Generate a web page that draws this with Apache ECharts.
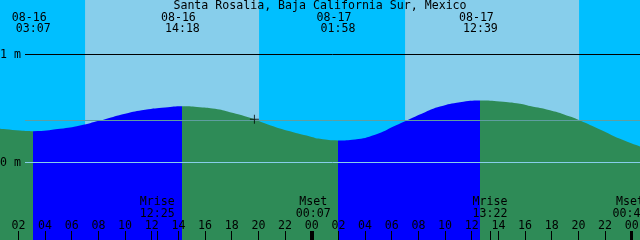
<!DOCTYPE html>
<html><head><meta charset="utf-8">
<script src="https://cdn.jsdelivr.net/npm/echarts@6/dist/echarts.min.js"></script>
<style>html,body{margin:0;padding:0;background:#00BFFF}#c{width:640px;height:240px}</style>
</head><body><div id="c"></div>
<script>
// ---- data (hours counted from 08-16 00:00 local) ----
const chartTitle = 'Santa Rosalia, Baja California Sur, Mexico';
const tideHours = [0.62, 2.12, 3.12, 5.12, 6.62, 8.12, 8.5, 10.0, 11.5, 13.0, 14.3, 15.62, 16.75, 17.87, 19.37, 20.87, 22.37, 23.87, 24.62, 25.97, 27.25, 28.75, 30.25, 31.0, 32.5, 33.62, 35.12, 36.65, 38.12, 39.62, 40.37, 41.87, 43.37, 44.12, 45.62, 47.12, 48.62];
const tideLevels = [0.312, 0.296, 0.290, 0.312, 0.343, 0.389, 0.401, 0.451, 0.488, 0.509, 0.521, 0.512, 0.497, 0.466, 0.414, 0.346, 0.289, 0.241, 0.219, 0.204, 0.213, 0.256, 0.340, 0.382, 0.466, 0.518, 0.558, 0.574, 0.565, 0.544, 0.523, 0.484, 0.426, 0.389, 0.306, 0.219, 0.148];
const eventHours = [3.117, 14.3, 25.967, 36.65];
const eventTypes = ['low', 'high', 'low', 'high'];
const eventDates = ['08-16', '08-16', '08-17', '08-17'];
const eventTimes = ['03:07', '14:18', '01:58', '12:39'];
const moonHours = [12.417, 24.117, 37.367, 48.717];
const moonNames = ['Mrise', 'Mset', 'Mrise', 'Mset'];
const moonTimes = ['12:25', '00:07', '13:22', '00:43'];
const sunriseHours = [7.0, 31.0];
const sunsetHours = [20.05, 44.05];
const hourTicks = [2, 4, 6, 8, 10, 12, 14, 16, 18, 20, 22, 24, 26, 28, 30, 32, 34, 36, 38, 40, 42, 44, 46, 48];
const hourTickLabels = ['02', '04', '06', '08', '10', '12', '14', '16', '18', '20', '22', '00', '02', '04', '06', '08', '10', '12', '14', '16', '18', '20', '22', '00'];
const midnightHours = [24, 48];
const levelLines = [1, 0];
const levelLabels = ['1 m', '0 m'];
const meanLevel = 0.389;
const nowPoint = [19.7, 0.40];

// ---- layout / style ----
const X_MIN = 0.62, X_MAX = 48.62;
const Y_MIN = -0.71759, Y_MAX = 1.50463;
const FONT = 'DejaVu Sans Mono';
const FS = 11.6;
const NIGHT = '#00BFFF', DAY = '#87CEEB', RISE = '#0000FF', FALL = '#2E8B57';
const lineStartH = X_MIN + 25 * (X_MAX - X_MIN) / 640;

const pieces = [];
let prev = null;
eventHours.forEach((h, i) => {
  const col = eventTypes[i] === 'low' ? FALL : RISE; // colour before this event
  const p = { color: col, lt: h };
  if (prev !== null) p.gte = prev;
  pieces.push(p);
  prev = h;
});
pieces.push({ gte: prev, color: eventTypes[eventTypes.length - 1] === 'low' ? RISE : FALL });

const chart = echarts.init(document.getElementById('c'), null, { renderer: 'canvas' });
const txt = (text, x, y) => ({ type: 'text', x: x, y: y, style: { text: text, fill: '#000', font: FS + 'px "' + FONT + '"', align: 'center', verticalAlign: 'middle' } });

chart.setOption({
  animation: false,
  backgroundColor: NIGHT,
  title: { text: chartTitle, left: 'center', top: 0, padding: 0, textStyle: { fontFamily: FONT, fontSize: FS, fontWeight: 'normal', color: '#000' } },
  grid: { left: 0, right: 0, top: 0, bottom: 0, show: true, backgroundColor: NIGHT, borderWidth: 0, containLabel: false, outerBoundsMode: 'none' },
  xAxis: [{
    type: 'value', min: X_MIN, max: X_MAX, position: 'bottom', z: 10,
    axisLine: { show: false, onZero: false }, splitLine: { show: false },
    axisTick: { show: true, inside: true, length: 9, customValues: hourTicks.concat(moonHours), lineStyle: { color: '#000', width: 1 } },
    axisLabel: { show: true, inside: true, margin: 8, customValues: hourTicks, color: '#000', fontFamily: FONT, fontSize: FS,
      formatter: v => { const i = hourTicks.indexOf(Math.round(v)); return i >= 0 ? hourTickLabels[i] : ''; } }
  }, {
    type: 'value', min: X_MIN, max: X_MAX, position: 'bottom', z: 10,
    axisLine: { show: false, onZero: false }, splitLine: { show: false }, axisLabel: { show: false },
    axisTick: { show: true, inside: true, length: 9, customValues: midnightHours, lineStyle: { color: '#000', width: 3 } }
  }],
  yAxis: { type: 'value', min: Y_MIN, max: Y_MAX, show: false },
  visualMap: { type: 'piecewise', show: false, dimension: 0, seriesIndex: 0, pieces: pieces },
  series: [{
    type: 'line', xAxisIndex: 0, z: 3,
    data: tideHours.map((h, i) => [h, tideLevels[i]]),
    symbol: 'none', smooth: 0.5, silent: true,
    lineStyle: { width: 0 },
    areaStyle: { origin: 'start', opacity: 1 },
    markArea: { silent: true, itemStyle: { color: DAY, opacity: 1 },
      data: sunriseHours.map((h, i) => [{ xAxis: h }, { xAxis: sunsetHours[i] }]) },
    markLine: { silent: true, symbol: ['none', 'none'], z: 5,
      data: levelLines.map((v, i) => [
        { coord: [lineStartH, v], lineStyle: { color: v === 0 ? DAY : '#000', width: 1, type: 'solid' },
          label: { show: true, position: 'start', distance: 4, formatter: levelLabels[i], color: '#000', fontFamily: FONT, fontSize: FS } },
        { coord: [X_MAX, v] }
      ]).concat([[
        { coord: [lineStartH, meanLevel], lineStyle: { color: '#5F9EA0', width: 1, type: 'solid' }, label: { show: false } },
        { coord: [X_MAX, meanLevel] }
      ]])
    }
  }, {
    type: 'scatter', z: 6, silent: true,
    data: [nowPoint],
    symbol: 'path://M0,4h9v1h-9z M4,0h1v9h-1z', symbolSize: 9,
    itemStyle: { color: '#000' }
  }, {
    type: 'custom', z: 7, silent: true,
    data: eventHours.map((h, i) => [h, i]),
    renderItem: (params, api) => {
      const i = api.value(1);
      const x = api.coord([api.value(0), 0])[0];
      return { type: 'group', children: [txt(eventDates[i], x - 4, 17.5), txt(eventTimes[i], x, 29)] };
    }
  }, {
    type: 'custom', z: 7, silent: true,
    data: moonHours.map((h, i) => [h, i]),
    renderItem: (params, api) => {
      const i = api.value(1);
      const x = Math.min(api.coord([api.value(0), 0])[0], 630);
      return { type: 'group', children: [txt(moonNames[i], x, 202), txt(moonTimes[i], x, 213.8)] };
    }
  }]
});
</script>
</body></html>
